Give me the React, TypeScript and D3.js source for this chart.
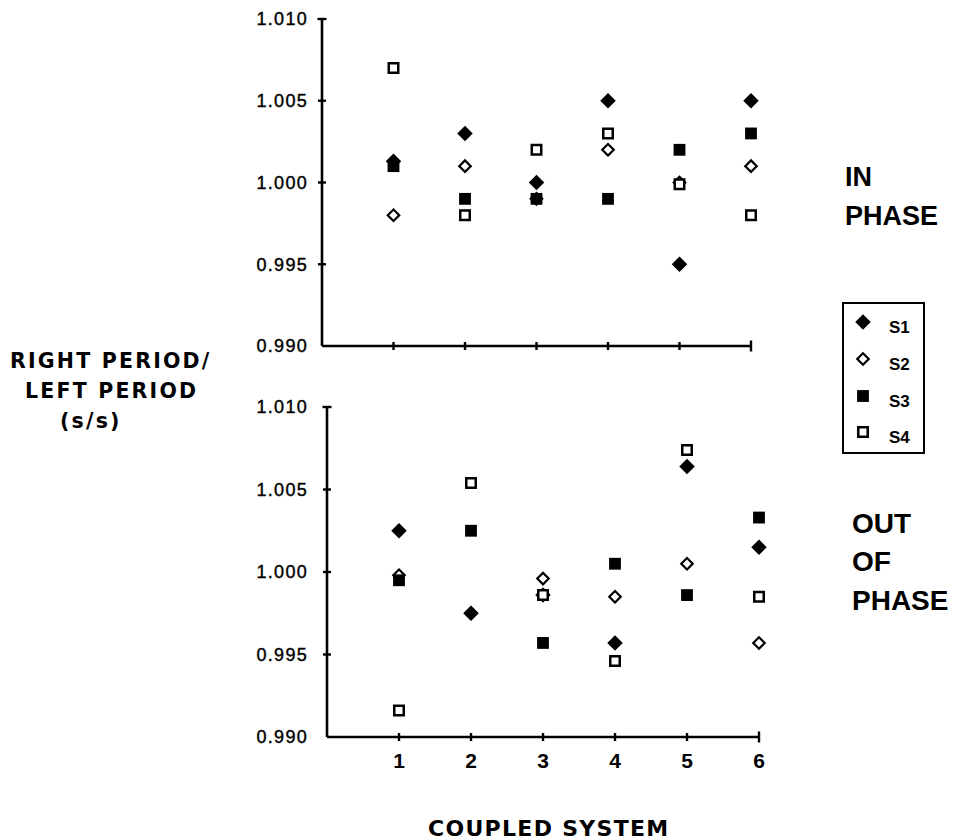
import React from 'react';
import * as d3 from 'd3';

const systems = [1, 2, 3, 4, 5, 6];
const yTickValues = [0.99, 0.995, 1.0, 1.005, 1.01];
const yTickLabels = ['0.990', '0.995', '1.000', '1.005', '1.010'];
const seriesNames = ['S1', 'S2', 'S3', 'S4'];

// IN PHASE
const inPhaseS1 = [1.0013, 1.003, 1.0, 1.005, 0.995, 1.005];
const inPhaseS2 = [0.998, 1.001, 0.999, 1.002, 1.0, 1.001];
const inPhaseS3 = [1.001, 0.999, 0.999, 0.999, 1.002, 1.003];
const inPhaseS4 = [1.007, 0.998, 1.002, 1.003, 0.9999, 0.998];

// OUT OF PHASE
const outPhaseS1 = [1.0025, 0.9975, 0.9986, 0.9957, 1.0064, 1.0015];
const outPhaseS2 = [0.9998, 0.9975, 0.9996, 0.9985, 1.0005, 0.9957];
const outPhaseS3 = [0.9995, 1.0025, 0.9957, 1.0005, 0.9986, 1.0033];
const outPhaseS4 = [0.9916, 1.0054, 0.9986, 0.9946, 1.0074, 0.9985];

const markerTypes = ['filledDiamond', 'openDiamond', 'filledSquare', 'openSquare'];

function Marker({ type, x, y }: { type: string; x: number; y: number }) {
  const sq = d3.symbol().type(d3.symbolSquare);
  if (type === 'filledDiamond') {
    return <path d={sq.size(120)() as string} transform={`translate(${x},${y}) rotate(45)`} fill="#000" />;
  }
  if (type === 'openDiamond') {
    return (
      <path d={sq.size(66)() as string} transform={`translate(${x},${y}) rotate(45)`} fill="none" stroke="#000" strokeWidth={2.2} />
    );
  }
  if (type === 'filledSquare') {
    return <path d={sq.size(140)() as string} transform={`translate(${x},${y})`} fill="#000" />;
  }
  return <path d={sq.size(90)() as string} transform={`translate(${x},${y})`} fill="#fff" stroke="#000" strokeWidth={2.5} />;
}

function Panel({
  xRange,
  yRange,
  series,
  showXLabels,
}: {
  xRange: [number, number];
  yRange: [number, number];
  series: number[][];
  showXLabels: boolean;
}) {
  const x = d3.scaleLinear().domain([0, 6]).range(xRange);
  const y = d3.scaleLinear().domain([0.99, 1.01]).range(yRange);
  const x0 = x(0);
  const y0 = y(0.99);
  return (
    <g>
      {/* y axis */}
      <line x1={x0} x2={x0} y1={y(1.01)} y2={y0} stroke="#000" strokeWidth={2.6} />
      <line x1={x0 - 4.5} x2={x0 + 4.5} y1={y(1.01)} y2={y(1.01)} stroke="#000" strokeWidth={2.4} />
      {yTickValues.slice(1, 4).map((v) => (
        <line key={v} x1={x0 - 4} x2={x0 + 4} y1={y(v)} y2={y(v)} stroke="#000" strokeWidth={2.4} />
      ))}
      {yTickValues.map((v, i) => (
        <text
          key={'yl' + v}
          x={308}
          y={y(v)}
          dy="0.36em"
          textAnchor="end"
          fontFamily="Liberation Sans, Arial, sans-serif"
          fontSize={18}
          letterSpacing={1.3}
          stroke="#000"
          strokeWidth={0.4}
          fill="#000"
        >
          {yTickLabels[i]}
        </text>
      ))}
      {/* x axis */}
      <line x1={x0} x2={x(6)} y1={y0} y2={y0} stroke="#000" strokeWidth={2.6} />
      {systems.map((s) => (
        <line
          key={'xt' + s}
          x1={x(s)}
          x2={x(s)}
          y1={y0 - (s === 6 ? 5.5 : 4)}
          y2={y0 + (s === 6 ? 5.5 : 4)}
          stroke="#000"
          strokeWidth={2.4}
        />
      ))}
      {showXLabels &&
        systems.map((s) => (
          <text
            key={'xl' + s}
            x={x(s)}
            y={y0 + 31}
            textAnchor="middle"
            fontFamily="Liberation Sans, Arial, sans-serif"
            fontWeight="bold"
            fontSize={21}
            fill="#000"
          >
            {s}
          </text>
        ))}
      {series.map((vals, si) =>
        vals.map((v, i) => <Marker key={si + '-' + i} type={markerTypes[si]} x={x(systems[i])} y={y(v)} />)
      )}
    </g>
  );
}

export default function App() {
  const titleFont = 'DejaVu Sans, Verdana, sans-serif';
  const sideFont = 'Liberation Sans, Arial, sans-serif';
  const legendRowY = [322, 359, 396, 432];
  return (
    <svg
      width={956}
      height={840}
      viewBox="0 0 956 840"
      style={{ position: 'absolute', left: 0, top: 0, background: '#fff' }}
    >
      <rect x={0} y={0} width={956} height={840} fill="#fff" />
      <Panel
        xRange={[322, 751]}
        yRange={[346, 19]}
        series={[inPhaseS1, inPhaseS2, inPhaseS3, inPhaseS4]}
        showXLabels={false}
      />
      <Panel
        xRange={[327, 759]}
        yRange={[737, 407]}
        series={[outPhaseS1, outPhaseS2, outPhaseS3, outPhaseS4]}
        showXLabels={true}
      />

      {/* y axis title */}
      <text x={10} y={368} fontFamily={titleFont} fontWeight="bold" fontSize={20.5} letterSpacing={2.2} fill="#000">
        RIGHT PERIOD/
      </text>
      <text x={25} y={398} fontFamily={titleFont} fontWeight="bold" fontSize={20.5} letterSpacing={2.2} fill="#000">
        LEFT PERIOD
      </text>
      <text x={60} y={428} fontFamily={titleFont} fontWeight="bold" fontSize={20.5} letterSpacing={2.2} fill="#000">
        (s/s)
      </text>

      {/* x axis title */}
      <text x={428} y={836} fontFamily={titleFont} fontWeight="bold" fontSize={22} letterSpacing={1.3} fill="#000">
        COUPLED SYSTEM
      </text>

      {/* panel labels */}
      <text x={845} y={186} fontFamily={sideFont} fontWeight="bold" fontSize={27} fill="#000">
        IN
      </text>
      <text x={845} y={225} fontFamily={sideFont} fontWeight="bold" fontSize={27} fill="#000">
        PHASE
      </text>
      <text x={852} y={533} fontFamily={sideFont} fontWeight="bold" fontSize={28} fill="#000">
        OUT
      </text>
      <text x={852} y={571} fontFamily={sideFont} fontWeight="bold" fontSize={28} fill="#000">
        OF
      </text>
      <text x={852} y={610} fontFamily={sideFont} fontWeight="bold" fontSize={28} fill="#000">
        PHASE
      </text>

      {/* legend */}
      <rect x={843} y={303} width={81} height={150} fill="#fff" stroke="#000" strokeWidth={2} />
      {seriesNames.map((name, i) => (
        <g key={name}>
          <Marker type={markerTypes[i]} x={863} y={legendRowY[i]} />
          <text
            x={889}
            y={legendRowY[i] + 5}
            dy="0.36em"
            fontFamily={sideFont}
            fontWeight="bold"
            fontSize={17}
            fill="#000"
          >
            {name}
          </text>
        </g>
      ))}
    </svg>
  );
}
